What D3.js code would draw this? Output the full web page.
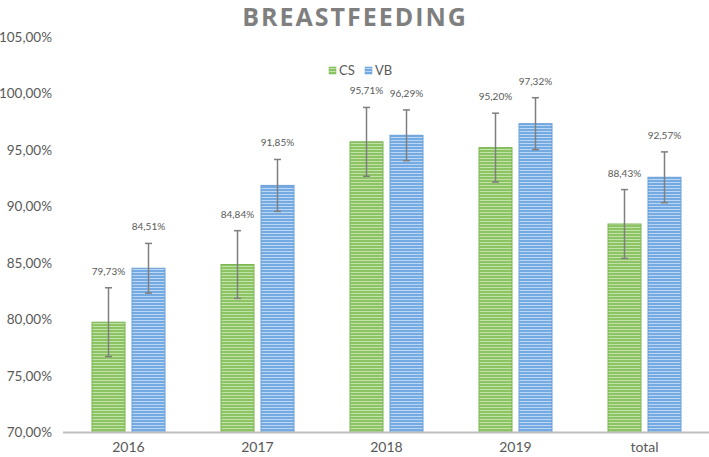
<!DOCTYPE html>
<html>
<head>
<meta charset="utf-8">
<script src="https://cdn.jsdelivr.net/npm/d3@7/dist/d3.min.js"></script>
<style>
  body { margin: 0; background: #fff; }
  text { font-family: Lato, "Open Sans", sans-serif; }
</style>
</head>
<body>
<div id="chart"></div>
<script>
// chart data
const years = ["2016", "2017", "2018", "2019", "total"];
const seriesNames = ["CS", "VB"];
const csValues = [79.73, 84.84, 95.71, 95.20, 88.43];
const vbValues = [84.51, 91.85, 96.29, 97.32, 92.57];
const csErrors = [3.05, 3.0, 3.05, 3.05, 3.05];
const vbErrors = [2.2, 2.3, 2.25, 2.3, 2.25];
const yTicks = [70, 75, 80, 85, 90, 95, 100, 105];

const colors = {
    CS: { base: "#8cc463", light: "#c2e2aa", stroke: "#7ab552" },
    VB: { base: "#74aae2", light: "#bcd6f3", stroke: "#6a9fd8" }
};

const width = 709, height = 457;
const margin = { top: 37, right: 0, bottom: 25, left: 64 };

const svg = d3.select("#chart")
    .append("svg")
    .attr("width", width)
    .attr("height", height);

// striped fills
const defs = svg.append("defs");
seriesNames.forEach(s => {
    const p = defs.append("pattern")
        .attr("id", "stripe-" + s)
        .attr("patternUnits", "userSpaceOnUse")
        .attr("width", 6)
        .attr("height", 3);
    p.append("rect").attr("width", 6).attr("height", 3).attr("fill", colors[s].base);
    p.append("rect").attr("y", 2).attr("width", 6).attr("height", 1).attr("fill", colors[s].light);
});

const x = d3.scaleBand()
    .domain(years)
    .range([margin.left, width - margin.right]);

const y = d3.scaleLinear()
    .domain([70, 105])
    .range([height - margin.bottom, margin.top]);

const barW = 33, gap = 7;
const rows = [];
years.forEach((yr, i) => {
    rows.push({ year: yr, series: "CS", value: csValues[i], err: csErrors[i], off: -gap / 2 - barW });
    rows.push({ year: yr, series: "VB", value: vbValues[i], err: vbErrors[i], off: gap / 2 });
});
const fmt = v => v.toFixed(2).replace(".", ",") + "%";

// title
svg.append("text")
    .attr("x", 355)
    .attr("y", 26)
    .attr("text-anchor", "middle")
    .style("font-family", "'Open Sans', sans-serif")
    .style("font-size", "25px")
    .style("font-weight", "bold")
    .style("letter-spacing", "2px")
    .style("fill", "#7f7f7f")
    .text("BREASTFEEDING");

// legend
const legend = svg.append("g").attr("transform", "translate(329,66)");
seriesNames.forEach((s, i) => {
    const g = legend.append("g").attr("transform", `translate(${i * 36},0)`);
    g.append("rect").attr("width", 7).attr("height", 7).attr("y", 1)
        .attr("fill", "url(#stripe-" + s + ")").attr("stroke", colors[s].stroke).attr("stroke-width", 0.5);
    g.append("text").attr("x", 10).attr("y", 9)
        .style("font-size", "13px").style("fill", "#595959").text(s);
});

// y axis labels
svg.append("g")
    .selectAll("text")
    .data(yTicks)
    .enter().append("text")
    .attr("x", 52)
    .attr("y", d => y(d) + 5)
    .attr("text-anchor", "end")
    .style("font-size", "13.5px")
    .style("fill", "#595959")
    .text(d => d.toFixed(2).replace(".", ",") + "%");

// bars
svg.selectAll(".bar")
    .data(rows)
    .enter().append("rect")
    .attr("class", "bar")
    .attr("x", d => x(d.year) + x.bandwidth() / 2 + d.off)
    .attr("width", barW)
    .attr("y", d => y(d.value))
    .attr("height", d => y(70) - y(d.value))
    .attr("fill", d => "url(#stripe-" + d.series + ")")
    .attr("stroke", d => colors[d.series].stroke)
    .attr("stroke-width", 1);

// x axis line
svg.append("line")
    .attr("x1", margin.left - 1)
    .attr("x2", width - margin.right)
    .attr("y1", y(70) + 0.5)
    .attr("y2", y(70) + 0.5)
    .attr("stroke", "#bfbfbf")
    .attr("stroke-width", 2);

// x labels
svg.append("g")
    .selectAll("text")
    .data(years)
    .enter().append("text")
    .attr("x", d => x(d) + x.bandwidth() / 2)
    .attr("y", 452)
    .attr("text-anchor", "middle")
    .style("font-size", "14px")
    .style("fill", "#595959")
    .text(d => d);

// error bars
const eb = svg.append("g").attr("stroke", "#7f7f7f").attr("stroke-width", 1.5);
rows.forEach(d => {
    const cx = x(d.year) + x.bandwidth() / 2 + d.off + barW / 2;
    const t = y(d.value + d.err), b = y(d.value - d.err);
    eb.append("line").attr("x1", cx).attr("x2", cx).attr("y1", t).attr("y2", b);
    eb.append("line").attr("x1", cx - 3.5).attr("x2", cx + 3.5).attr("y1", t).attr("y2", t);
    eb.append("line").attr("x1", cx - 3.5).attr("x2", cx + 3.5).attr("y1", b).attr("y2", b);
});

// value labels
svg.selectAll(".label")
    .data(rows)
    .enter().append("text")
    .attr("class", "label")
    .attr("x", d => x(d.year) + x.bandwidth() / 2 + d.off + barW / 2)
    .attr("y", d => y(d.value + d.err) - 13)
    .attr("text-anchor", "middle")
    .style("font-size", "10px")
    .style("fill", "#595959")
    .text(d => fmt(d.value));
</script>
</body>
</html>
